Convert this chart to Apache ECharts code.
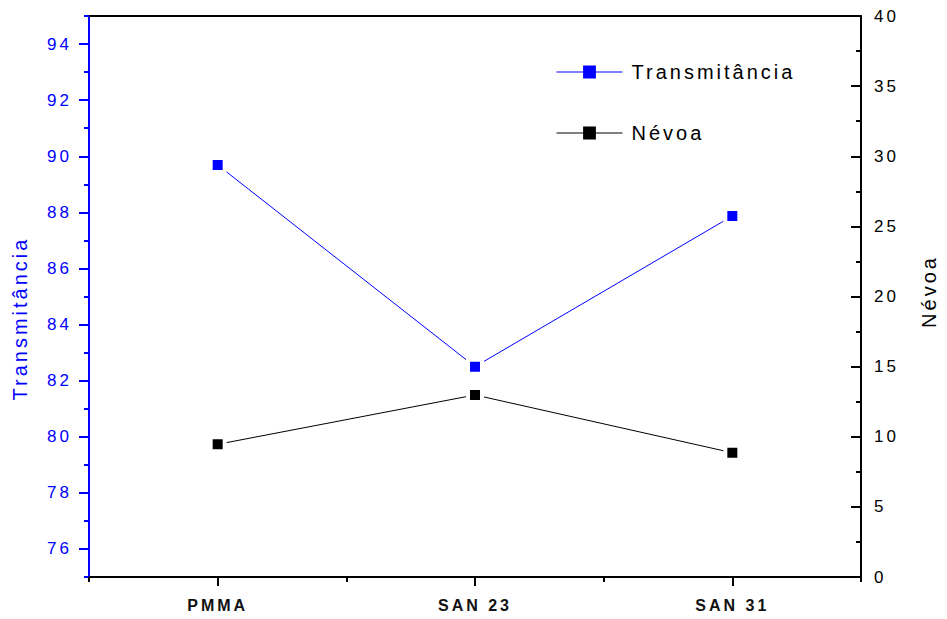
<!DOCTYPE html>
<html>
<head>
<meta charset="utf-8">
<script src="https://cdn.jsdelivr.net/npm/echarts@6/dist/echarts.min.js"></script>
<style>
  html, body { margin: 0; padding: 0; background: #fff; }
  #chart { width: 947px; height: 619px; }
  /* Origin-style spaced lettering */
  #chart text { letter-spacing: 3px; }
</style>
</head>
<body>
<div id="chart"></div>
<script>
// Samples on the x axis
var categories = ['PMMA', 'SAN 23', 'SAN 31'];
// Transmittance (%), left axis
var transmitancia = [89.69, 82.50, 87.87];
// Haze (%), right axis
var nevoa = [9.46, 12.98, 8.86];
// Left-axis tick values
var leftMajorTicks = [76, 78, 80, 82, 84, 86, 88, 90, 92, 94];
var leftMinorTicks = [75, 77, 79, 81, 83, 85, 87, 89, 91, 93, 95];

var FONT = "'Liberation Sans', Arial, Helvetica, sans-serif";
var BLUE = '#0000ff';
var BLACK = '#000000';

var chart = echarts.init(document.getElementById('chart'), null, { renderer: 'svg' });

chart.setOption({
  animation: false,
  backgroundColor: '#ffffff',
  grid: { left: 89, right: 81, top: 16, bottom: 42, containLabel: false },
  legend: {
    orient: 'vertical',
    left: 551,
    top: 57,
    itemWidth: 66,
    itemHeight: 16,
    itemGap: 41,
    textStyle: { fontFamily: FONT, fontSize: 20, color: BLACK, padding: [0, 0, 0, 4] },
    data: [
      { name: 'Transmitância', itemStyle: { borderWidth: 0 }, lineStyle: { width: 1 } },
      { name: 'Névoa', itemStyle: { borderWidth: 0 }, lineStyle: { width: 1 } }
    ]
  },
  xAxis: [
    {
      type: 'category',
      position: 'bottom',
      data: categories,
      boundaryGap: true,
      axisLine: { show: true, lineStyle: { color: BLACK, width: 2 } },
      axisTick: { show: true, alignWithLabel: true, length: 9, lineStyle: { color: BLACK, width: 2 } },
      axisLabel: { fontFamily: FONT, fontSize: 16, fontWeight: 'bold', color: '#111111', margin: 20 },
      splitLine: { show: false }
    },
    {
      // band-boundary (minor) ticks
      type: 'category',
      position: 'bottom',
      offset: 0,
      data: categories,
      boundaryGap: true,
      axisLine: { show: false },
      axisTick: { show: true, interval: 0, length: 5, lineStyle: { color: BLACK, width: 2 } },
      axisLabel: { show: false },
      splitLine: { show: false }
    },
    {
      // top frame line
      type: 'category',
      position: 'top',
      data: categories,
      axisLine: { show: true, lineStyle: { color: BLACK, width: 2 } },
      axisTick: { show: false },
      axisLabel: { show: false },
      splitLine: { show: false }
    }
  ],
  yAxis: [
    {
      type: 'value',
      position: 'left',
      min: 75,
      max: 95,
      name: 'Transmitância',
      nameLocation: 'middle',
      nameGap: 59,
      nameTextStyle: { fontFamily: FONT, fontSize: 20, color: BLUE, padding: [0, 44, 0, 0] },
      axisLine: { show: true, lineStyle: { color: BLUE, width: 2 } },
      axisTick: { show: true, length: 10, customValues: leftMajorTicks, lineStyle: { color: BLUE, width: 2 } },
      axisLabel: { fontFamily: FONT, fontSize: 17, color: BLUE, margin: 17, customValues: leftMajorTicks },
      splitLine: { show: false }
    },
    {
      // odd-value (minor) ticks on the left axis
      type: 'value',
      position: 'left',
      offset: 0,
      min: 75,
      max: 95,
      axisLine: { show: false },
      axisTick: { show: true, length: 5, customValues: leftMinorTicks, lineStyle: { color: BLUE, width: 2 } },
      axisLabel: { show: false },
      splitLine: { show: false }
    },
    {
      type: 'value',
      position: 'right',
      min: 0,
      max: 40,
      interval: 5,
      name: 'Névoa',
      nameLocation: 'middle',
      nameGap: 58,
      nameTextStyle: { fontFamily: FONT, fontSize: 20, color: BLACK, padding: [0, 0, 0, 10] },
      axisLine: { show: true, lineStyle: { color: BLACK, width: 2 } },
      axisTick: { show: true, inside: true, length: 10, lineStyle: { color: BLACK, width: 2 } },
      minorTick: { show: true, splitNumber: 2, length: 5, lineStyle: { color: BLACK, width: 2 } },
      axisLabel: { fontFamily: FONT, fontSize: 17, color: BLACK, margin: 13 },
      splitLine: { show: false }
    }
  ],
  series: [
    {
      name: 'Transmitância',
      type: 'line',
      xAxisIndex: 0,
      yAxisIndex: 0,
      data: transmitancia,
      symbol: 'rect',
      symbolSize: 14,
      lineStyle: { color: BLUE, width: 1 },
      itemStyle: { color: BLUE, borderColor: '#ffffff', borderWidth: 4 },
      emphasis: { disabled: true }
    },
    {
      name: 'Névoa',
      type: 'line',
      xAxisIndex: 0,
      yAxisIndex: 2,
      data: nevoa,
      symbol: 'rect',
      symbolSize: 14,
      lineStyle: { color: BLACK, width: 1 },
      itemStyle: { color: BLACK, borderColor: '#ffffff', borderWidth: 4 },
      emphasis: { disabled: true }
    }
  ]
});
</script>
</body>
</html>
